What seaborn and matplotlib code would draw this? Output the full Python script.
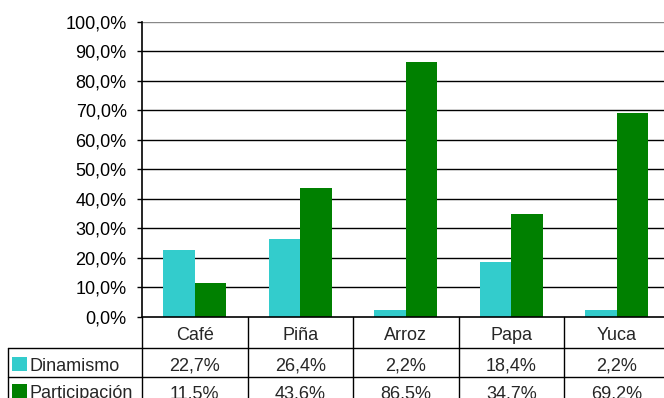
import matplotlib
matplotlib.use("Agg")
import matplotlib.pyplot as plt
from matplotlib.lines import Line2D
from matplotlib.patches import Rectangle
import seaborn as sns
import pandas as pd

categories = ["Café", "Piña", "Arroz", "Papa", "Yuca"]
series_names = ["Dinamismo", "Participación"]
dinamismo = [22.7, 26.4, 2.2, 18.4, 2.2]
participacion = [11.5, 43.6, 86.5, 34.7, 69.2]
colors = ["#33CCCC", "#008000"]

df = pd.DataFrame({
    "cat": categories * 2,
    "serie": [series_names[0]] * 5 + [series_names[1]] * 5,
    "val": [v / 100 for v in dinamismo] + [v / 100 for v in participacion],
})

sns.set_style("white")
plt.rcParams["font.family"] = ["Liberation Sans", "DejaVu Sans"]
FS = 13

W, H = 664, 398
fig = plt.figure(figsize=(W / 100, H / 100), dpi=100)
ax_left, ax_right = 142, 142 + 5 * 105.5
ax_top, ax_bot = 22, 316.7
ax = fig.add_axes([ax_left / W, (H - ax_bot) / H, (ax_right - ax_left) / W, (ax_bot - ax_top) / H])

sns.barplot(data=df, x="cat", y="val", hue="serie", order=categories,
            hue_order=series_names, palette=colors, width=0.594,
            saturation=1, legend=False, ax=ax, edgecolor="none", zorder=3)

ax.set_xlim(-0.5, 4.5)
ax.set_ylim(0, 1.0)
yt = [i / 10 for i in range(11)]
ax.set_yticks(yt)
ax.set_yticklabels([f"{v*100:.1f}%".replace(".", ",") for v in yt], fontsize=FS, color="#000000")
ax.set_xticks([])
ax.set_xlabel("")
ax.set_ylabel("")
ax.tick_params(axis="y", direction="out", length=3.8, width=1, color="#000000", pad=7.2, left=True)
for y in yt[1:]:
    ax.axhline(y, color="#000000" if y < 1 else "#888888", lw=1, zorder=1)
for s in ["top", "right", "bottom"]:
    ax.spines[s].set_visible(False)
ax.spines["left"].set_color("#000000")
ax.spines["left"].set_linewidth(1.2)
ax.axhline(0, color="#000000", lw=1.2, zorder=4, clip_on=False)


def fx(px):
    return px / W


def fy(py):
    return (H - py) / H


def line(x0, y0, x1, y1, lw=1):
    fig.add_artist(Line2D([fx(x0), fx(x1)], [fy(y0), fy(y1)], color="#000000", lw=lw,
                          transform=fig.transFigure))


cw = (ax_right - ax_left) / 5
row1_top, row2_top, row3_top, table_bot = 316.7, 347.7, 376.5, 410
left_edge = 8.3

# horizontal lines
line(left_edge, row2_top, W + 5, row2_top)
line(left_edge, row3_top, W + 5, row3_top)
# vertical lines
line(left_edge, row2_top, left_edge, table_bot)
for i in range(6):
    x = ax_left + i * cw
    line(x, row1_top, x, table_bot)

# category labels
for i, c in enumerate(categories):
    fig.text(fx(ax_left + (i + 0.5) * cw), fy(339.5), c, ha="center", va="baseline", fontsize=FS)

rows = [dinamismo, participacion]
baselines = [370.8, 398.5]
for r, (name, vals, col, bl) in enumerate(zip(series_names, rows, colors, baselines)):
    fig.add_artist(Rectangle((fx(12.3), fy(bl)), 14.2 / W, 14.2 / H, facecolor=col,
                             edgecolor="none", transform=fig.transFigure))
    fig.text(fx(29.5), fy(bl), name, ha="left", va="baseline", fontsize=FS)
    for i, v in enumerate(vals):
        fig.text(fx(ax_left + (i + 0.5) * cw), fy(bl), f"{v:.1f}%".replace(".", ","),
                 ha="center", va="baseline", fontsize=FS)

fig.savefig("out.png", dpi=100)
